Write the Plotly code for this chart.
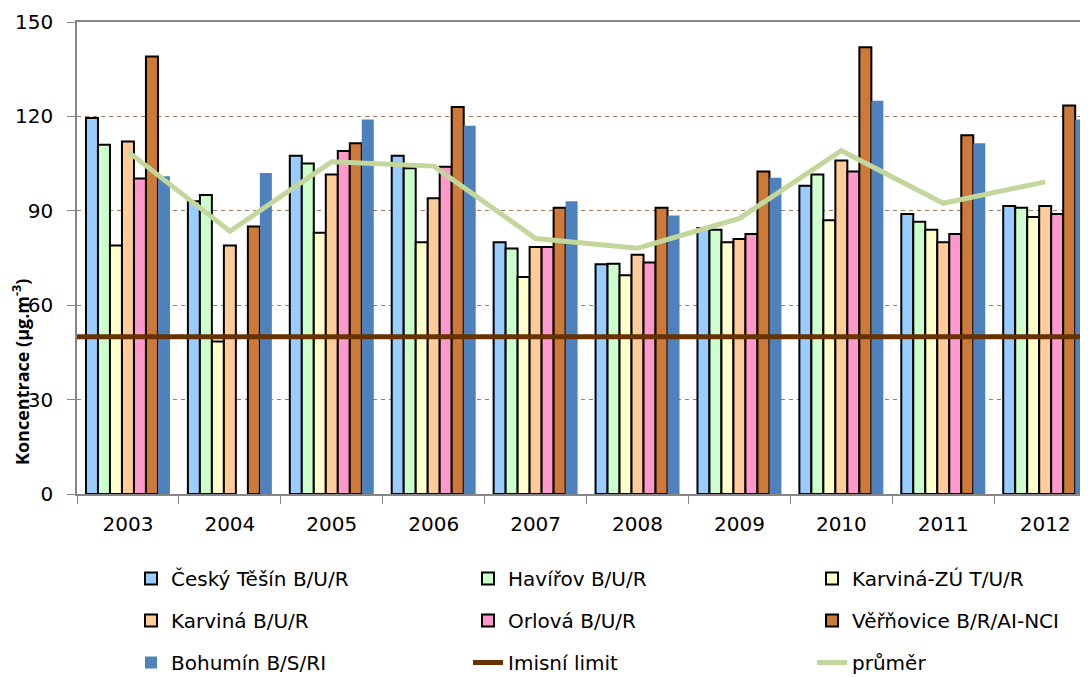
import plotly.graph_objects as go

years = ['2003', '2004', '2005', '2006', '2007', '2008', '2009', '2010', '2011', '2012']
cesky_tesin = [119.5, 93, 107.5, 107.5, 80, 73, 84.5, 98, 89, 91.5]
havirov = [111, 95, 105, 103.5, 78, 73.2, 84, 101.5, 86.5, 91]
karvina_zu = [79, 48.5, 83, 80, 69, 69.5, 80, 87, 84, 88]
karvina = [112, 79, 101.5, 94, 78.5, 76, 81, 106, 80, 91.5]
orlova = [100.3, None, 109, 104, 78.5, 73.6, 82.6, 102.5, 82.6, 89]
verinovice = [139, 85, 111.5, 123, 91, 91, 102.5, 142, 114, 123.5]
bohumin = [101, 102, 119, 117, 93, 88.5, 100.5, 125, 111.5, 119]
prumer = [108.8, 83.5, 105.6, 104.2, 81.2, 78.1, 87.6, 109.1, 92.4, 99.2]
limit_value = 50

y_ticks = [0, 30, 60, 90, 120, 150]

# name, values, colour, outlined, legend column
bar_series = [
    ('Český Těšín B/U/R', cesky_tesin, '#99CCFF', True, 'legend'),
    ('Havířov B/U/R', havirov, '#CCFFCC', True, 'legend2'),
    ('Karviná-ZÚ T/U/R', karvina_zu, '#FFFFCC', True, 'legend3'),
    ('Karviná B/U/R', karvina, '#FFCC99', True, 'legend'),
    ('Orlová B/U/R', orlova, '#FF99CC', True, 'legend2'),
    ('Věřňovice B/R/AI-NCI', verinovice, '#CD7A38', True, 'legend3'),
    ('Bohumín B/S/RI', bohumin, '#4F81BD', False, 'legend'),
]

FONT = 'DejaVu Sans, Open Sans, sans-serif'
TFONT = 'Open Sans, Noto Sans, DejaVu Sans, sans-serif'

fig = go.Figure()
for i, (name, vals, color, outline, lg) in enumerate(bar_series):
    fig.add_trace(go.Bar(
        x=years, y=vals, name=name, legend=lg, legendgroup='g%d' % i,
        marker=dict(color=color,
                    line=dict(color='black' if outline else color, width=2 if outline else 0)),
    ))

# legend entry for limit (the line itself is drawn as a full-width shape)
fig.add_trace(go.Scatter(
    x=[None], y=[None], name='Imisní limit', mode='lines', legend='legend2', legendgroup='g_lim',
    line=dict(color='#663300', width=5),
))
fig.add_trace(go.Scatter(
    x=years, y=prumer, name='průměr', mode='lines', legend='legend3', legendgroup='g_avg',
    line=dict(color='#C3D69B', width=5),
))

fig.add_shape(type='line', xref='paper', x0=0, x1=1, yref='y', y0=limit_value, y1=limit_value,
              line=dict(color='#663300', width=5), layer='above')

# page body has an 8px margin: work in reference pixels, shifted by OFF
OFF = 8
W, H = 1088 - OFF, 677 - OFF
L, R, T, B = 77 - OFF, 0, 22 - OFF, 183
PW, PH = W - L - R, H - T - B

fig.update_layout(
    width=W, height=H,
    margin=dict(l=L, r=R, t=T, b=B, autoexpand=False),
    paper_bgcolor='white', plot_bgcolor='white',
    barmode='group', bargap=0.176, bargroupgap=0,
    font=dict(family=FONT, size=18, color='black'),
    xaxis=dict(
        type='category', range=[-0.5, 9.42], automargin=False,
        showline=True, linecolor='#868686', linewidth=1.5, mirror=True,
        ticks='outside', tickson='boundaries', ticklen=8, tickcolor='#868686',
        showgrid=False, ticklabelstandoff=11,
        tickfont=dict(size=20),
    ),
    yaxis=dict(
        range=[0, 150], tickvals=y_ticks, automargin=False,
        showline=True, linecolor='#868686', linewidth=1.5,
        ticks='outside', ticklen=8, tickcolor='#868686',
        showgrid=True, gridcolor='#A07A5A', griddash='4px,4px', gridwidth=1,
        zeroline=False, ticklabelstandoff=10,
        tickfont=dict(size=20),
    ),
    showlegend=True,
)


def px_x(px):
    return (px - OFF - L) / PW


def px_y(py):
    return (H - B - (py - OFF)) / PH


leg_common = dict(orientation='v', xanchor='left', yanchor='top', y=px_y(559),
                  tracegroupgap=13, bgcolor='rgba(0,0,0,0)',
                  font=dict(family=FONT, size=20, color='black'), traceorder='grouped')
fig.update_layout(
    legend=dict(x=px_x(131), **leg_common),
    legend2=dict(x=px_x(468), **leg_common),
    legend3=dict(x=px_x(812), **leg_common),
)

fig.add_annotation(
    text='<b>Koncentrace (µg.m<sup>-3</sup>)</b>', textangle=-90,
    xref='paper', yref='paper', x=px_x(21), y=px_y(372),
    showarrow=False, font=dict(family=TFONT, size=18, color='black'),
    xanchor='center', yanchor='middle',
)

fig.write_html('out.html')
